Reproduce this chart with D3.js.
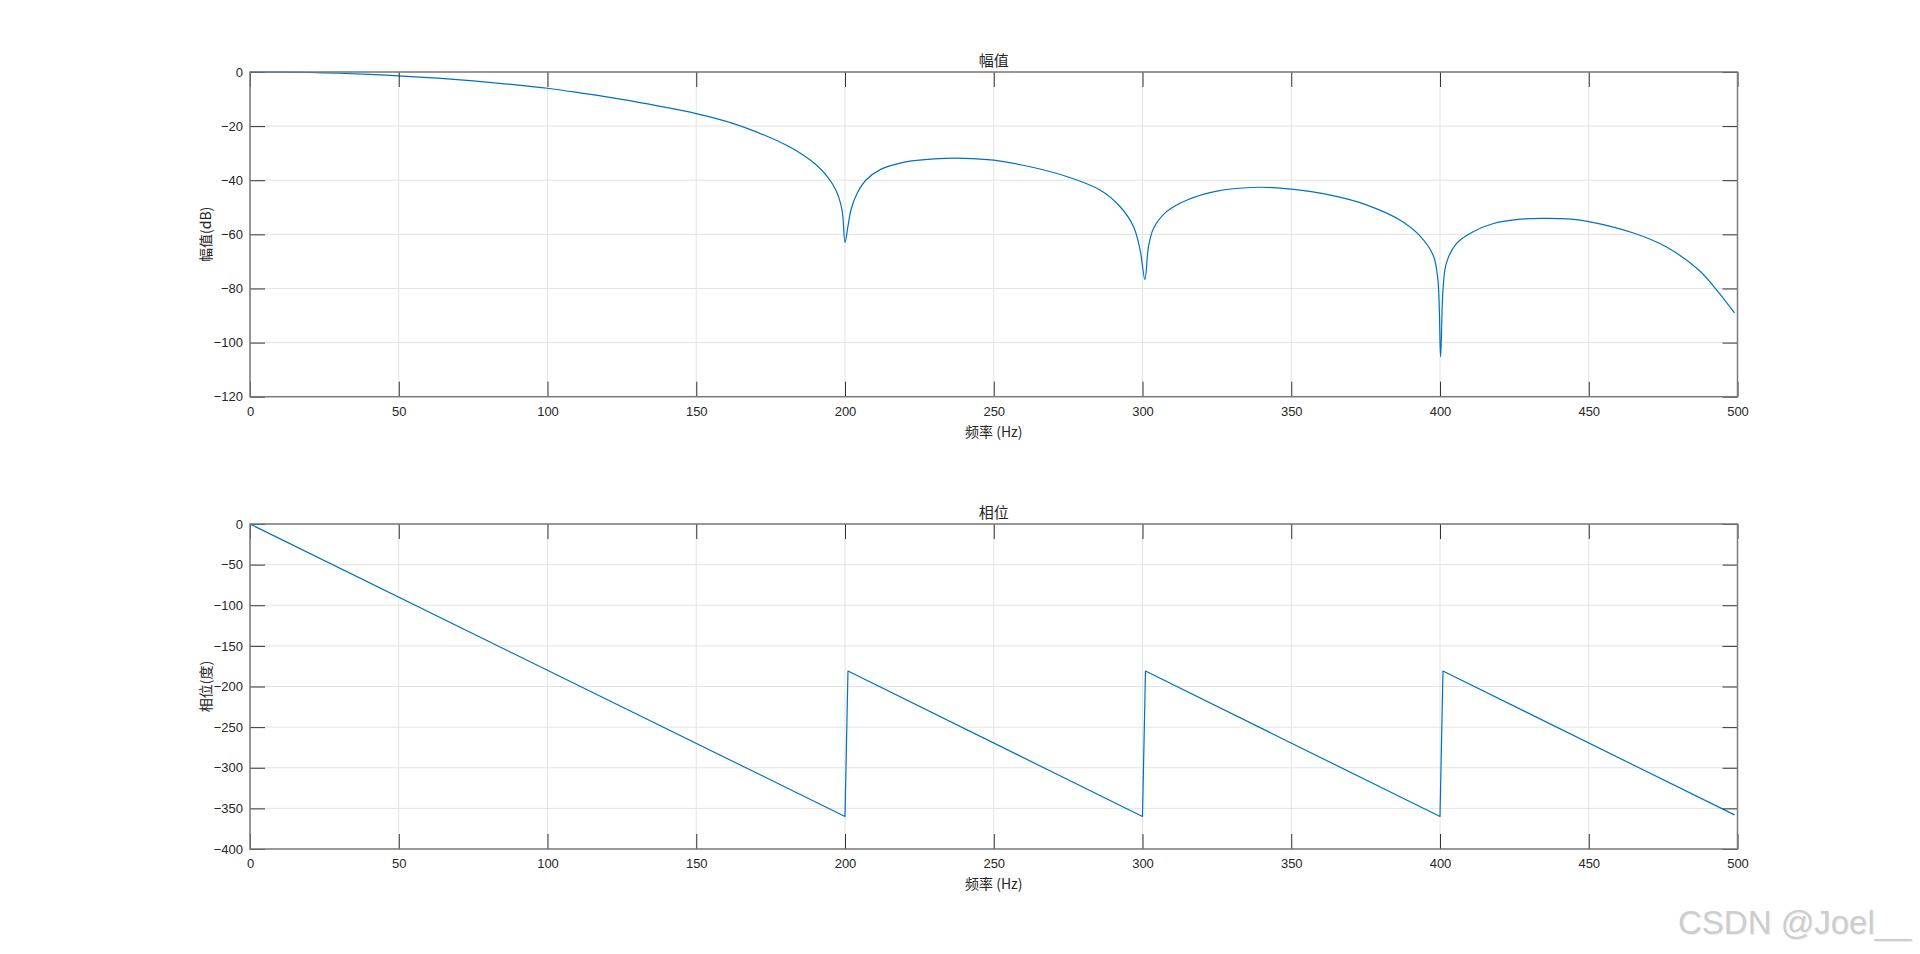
<!DOCTYPE html>
<html>
<head>
<meta charset="utf-8">
<script src="https://cdn.jsdelivr.net/npm/d3@7"></script>
<style>
  html, body { margin: 0; padding: 0; background: #fff; }
  svg { display: block; }
</style>
</head>
<body>
<svg id="chart" width="1920" height="954"></svg>
<script>
// ---------- data ----------
const xTicks = [0, 50, 100, 150, 200, 250, 300, 350, 400, 450, 500];
const magTicks = [0, -20, -40, -60, -80, -100, -120];
const phaseTicks = [0, -50, -100, -150, -200, -250, -300, -350, -400];

const magFreq = [0, 10, 25, 40, 50, 62, 75, 88, 100, 112, 125, 137, 150, 162, 173, 180, 185, 190, 194, 197, 199, 200,
  201, 202, 204, 207, 212, 220, 230, 240, 250, 263, 275, 286, 292.5, 297, 299.2, 300.8,
  302, 303.7, 308, 315, 325, 339, 350, 364, 375, 386.5, 393, 397.7, 399.3, 400.2,
  401, 402.1, 405.5, 411, 418, 427, 435, 443, 450, 465, 476, 487, 493, 499];
const magDb = [0, -0.05, -0.3, -0.85, -1.4, -2.2, -3.3, -4.6, -6.0, -7.9, -10.1, -12.5, -15.4, -18.9, -23.4, -26.9, -30.0, -34.0, -38.6, -43.8, -51, -63,
  -57, -51, -45, -40, -36, -33.3, -32.1, -31.9, -32.6, -35.2, -38.8, -43.8, -49.8, -57.2, -65.8, -76.7,
  -64.6, -57.8, -51.7, -47.3, -44, -42.6, -43.3, -45.7, -49.0, -54.7, -60.3, -67.7, -76.9, -105.3,
  -80.6, -70.8, -63.4, -59.1, -56, -54.4, -54.1, -54.3, -55.3, -59.5, -64.6, -73.2, -80.6, -89];

const phaseFreq = [0, 200, 201, 300, 301, 400, 401, 499];
const phaseDeg = [0, -360, -181, -360, -181, -360, -181, -358];

// ---------- layout ----------
const svg = d3.select("#chart");
const left = 250, right = 1737.5;
const latin = "'Liberation Sans', Arial, Helvetica, sans-serif";
const cjk = "'Noto Sans CJK SC', 'Liberation Sans', sans-serif";
const lineColor = "#0072BD";

const panels = [
  { top: 72, bottom: 396.7, yDomain: [-120, 0], yTicks: magTicks, xs: magFreq, ys: magDb,
    title: "幅值", ylabel: "幅值(dB)", curve: d3.curveCatmullRom.alpha(0.5) },
  { top: 524, bottom: 849, yDomain: [-400, 0], yTicks: phaseTicks, xs: phaseFreq, ys: phaseDeg,
    title: "相位", ylabel: "相位(度)", curve: d3.curveLinear }
];

panels.forEach(p => {
  const x = d3.scaleLinear().domain([0, 500]).range([left, right]);
  const y = d3.scaleLinear().domain(p.yDomain).range([p.bottom, p.top]);
  const g = svg.append("g");

  // grid
  g.append("g").selectAll("line").data(xTicks).join("line")
    .attr("x1", d => x(d)).attr("x2", d => x(d))
    .attr("y1", p.top).attr("y2", p.bottom)
    .attr("stroke", "#e3e3e3").attr("stroke-width", 1);
  g.append("g").selectAll("line").data(p.yTicks).join("line")
    .attr("y1", d => y(d)).attr("y2", d => y(d))
    .attr("x1", left).attr("x2", right)
    .attr("stroke", "#e3e3e3").attr("stroke-width", 1);

  // data line
  const pts = p.xs.map((f, i) => [f, p.ys[i]]);
  g.append("path").datum(pts)
    .attr("fill", "none").attr("stroke", lineColor).attr("stroke-width", 1.2)
    .attr("stroke-linejoin", "round")
    .attr("d", d3.line().x(d => x(d[0])).y(d => y(d[1])).curve(p.curve));

  // axes (ticks inward)
  const styleAxis = sel => {
    sel.select(".domain").remove();
    sel.selectAll(".tick line").attr("stroke", "#333").attr("stroke-width", 1);
    sel.selectAll(".tick text").attr("fill", "#262626")
      .style("font-family", latin).style("font-size", "13px");
  };
  g.append("g").attr("transform", `translate(0,${p.bottom})`)
    .call(d3.axisBottom(x).tickValues(xTicks).tickSize(-15).tickPadding(10).tickFormat(d3.format("d")))
    .call(styleAxis);
  g.append("g").attr("transform", `translate(0,${p.top})`)
    .call(d3.axisTop(x).tickValues(xTicks).tickSize(-15).tickFormat(""))
    .call(styleAxis);
  g.append("g").attr("transform", `translate(${left},0)`)
    .call(d3.axisLeft(y).tickValues(p.yTicks).tickSize(-15).tickPadding(7).tickFormat(d3.format("d")))
    .call(styleAxis);
  g.append("g").attr("transform", `translate(${right},0)`)
    .call(d3.axisRight(y).tickValues(p.yTicks).tickSize(-15).tickFormat(""))
    .call(styleAxis);

  // frame
  g.append("rect").attr("x", left).attr("y", p.top)
    .attr("width", right - left).attr("height", p.bottom - p.top)
    .attr("fill", "none").attr("stroke", "#7a7a7a").attr("stroke-width", 1.5);

  // title
  g.append("text").attr("x", (left + right) / 2).attr("y", p.top - 6)
    .attr("text-anchor", "middle").attr("fill", "#262626")
    .style("font-family", cjk).style("font-size", "15px").text(p.title);

  // x label
  g.append("text").attr("x", (left + right) / 2).attr("y", p.bottom + 40)
    .attr("text-anchor", "middle").attr("fill", "#262626")
    .style("font-family", cjk).style("font-size", "14px").text("频率 (Hz)");

  // y label
  g.append("text")
    .attr("transform", `translate(211,${(p.top + p.bottom) / 2}) rotate(-90)`)
    .attr("text-anchor", "middle").attr("fill", "#262626")
    .style("font-family", cjk).style("font-size", "14px").text(p.ylabel);
});

// watermark
svg.append("text").attr("x", 1679).attr("y", 935)
  .attr("fill", "#eeeeee").style("font-family", latin).style("font-size", "33px")
  .text("CSDN @Joel__");
svg.append("text").attr("x", 1678).attr("y", 934)
  .attr("fill", "#cdcdcd").style("font-family", latin).style("font-size", "33px")
  .text("CSDN @Joel__");
</script>
</body>
</html>
